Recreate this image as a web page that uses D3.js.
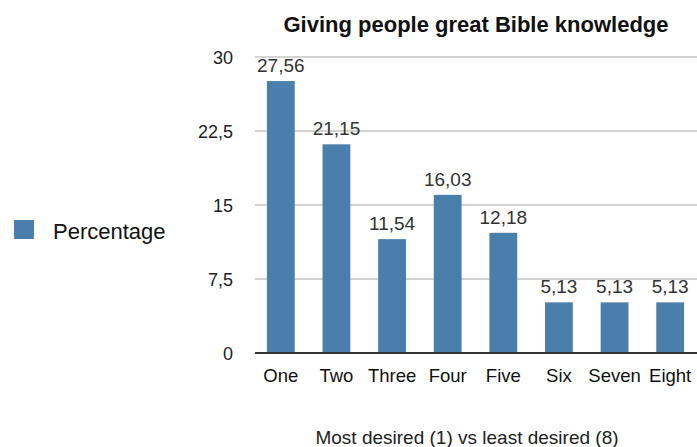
<!doctype html>
<html lang="en">
<head>
  <meta charset="utf-8">
  <title>Giving people great Bible knowledge</title>
</head>
<style>
  body { margin: 0; background: #fff; font-family: "Liberation Sans", Arial, sans-serif; }
</style>
<body>
  <script src="https://d3js.org/d3.v7.min.js"></script>
  <svg xmlns="http://www.w3.org/2000/svg"></svg>
  <script>

    var categories = ["One", "Two", "Three", "Four", "Five", "Six", "Seven", "Eight"];
    var percentage = [27.56, 21.15, 11.54, 16.03, 12.18, 5.13, 5.13, 5.13];
    var yTicks = [0, 7.5, 15, 22.5, 30];
    var seriesName = "Percentage";

    var svg = d3.select("svg")
      .attr("width", 697)
      .attr("height", 447);

    var barColor = "#4a7eab";

    // comma as decimal separator like the original
    var fmt = function(v) { return String(v).replace(".", ","); };

    var x = d3.scaleBand()
      .domain(categories)
      .range([253, 698])
      .paddingInner(0.5)
      .paddingOuter(0.25);

    var y = d3.scaleLinear()
      .domain([0, 30])
      .range([353, 57]);

    // gridlines
    svg.append("g")
      .selectAll("line")
      .data(yTicks.filter(function(d) { return d > 0; }))
      .enter().append("line")
      .attr("x1", 255).attr("x2", 697)
      .attr("y1", function(d) { return y(d); })
      .attr("y2", function(d) { return y(d); })
      .attr("stroke", "#c4c4c4")
      .attr("stroke-width", 1.5);

    // y tick labels
    svg.append("g")
      .selectAll("text")
      .data(yTicks)
      .enter().append("text")
      .attr("x", 233)
      .attr("y", function(d) { return y(d) + 7; })
      .attr("text-anchor", "end")
      .style("font-size", "18px")
      .attr("fill", "#222")
      .text(fmt);

    // bars
    svg.append("g")
      .selectAll("rect")
      .data(percentage)
      .enter().append("rect")
      .attr("x", function(d, i) { return x(categories[i]); })
      .attr("width", x.bandwidth())
      .attr("y", function(d) { return y(d); })
      .attr("height", function(d) { return y(0) - y(d); })
      .attr("fill", barColor);

    // value labels
    svg.append("g")
      .selectAll("text")
      .data(percentage)
      .enter().append("text")
      .attr("x", function(d, i) { return x(categories[i]) + x.bandwidth() / 2; })
      .attr("y", function(d) { return y(d) - 9; })
      .attr("text-anchor", "middle")
      .style("font-size", "19px")
      .attr("fill", "#333")
      .text(fmt);

    // baseline
    svg.append("line")
      .attr("x1", 255).attr("x2", 697)
      .attr("y1", y(0)).attr("y2", y(0))
      .attr("stroke", "#333")
      .attr("stroke-width", 2);

    // category labels
    svg.append("g")
      .selectAll("text")
      .data(categories)
      .enter().append("text")
      .attr("x", function(d) { return x(d) + x.bandwidth() / 2; })
      .attr("y", 382)
      .attr("text-anchor", "middle")
      .style("font-size", "18.5px")
      .attr("fill", "#111")
      .text(function(d) { return d; });

    // title
    svg.append("text")
      .attr("x", 476)
      .attr("y", 32)
      .attr("text-anchor", "middle")
      .style("font-size", "22px")
      .style("font-weight", "bold")
      .attr("fill", "#111")
      .text("Giving people great Bible knowledge");

    // x axis title
    svg.append("text")
      .attr("x", 467)
      .attr("y", 444)
      .attr("text-anchor", "middle")
      .style("font-size", "19px")
      .attr("fill", "#222")
      .text("Most desired (1) vs least desired (8)");

    // legend
    svg.append("rect")
      .attr("x", 14).attr("y", 220)
      .attr("width", 20).attr("height", 19)
      .attr("fill", barColor);

    svg.append("text")
      .attr("x", 53)
      .attr("y", 239)
      .style("font-size", "22px")
      .attr("fill", "#111")
      .text(seriesName);

  </script>
</body>
</html>
